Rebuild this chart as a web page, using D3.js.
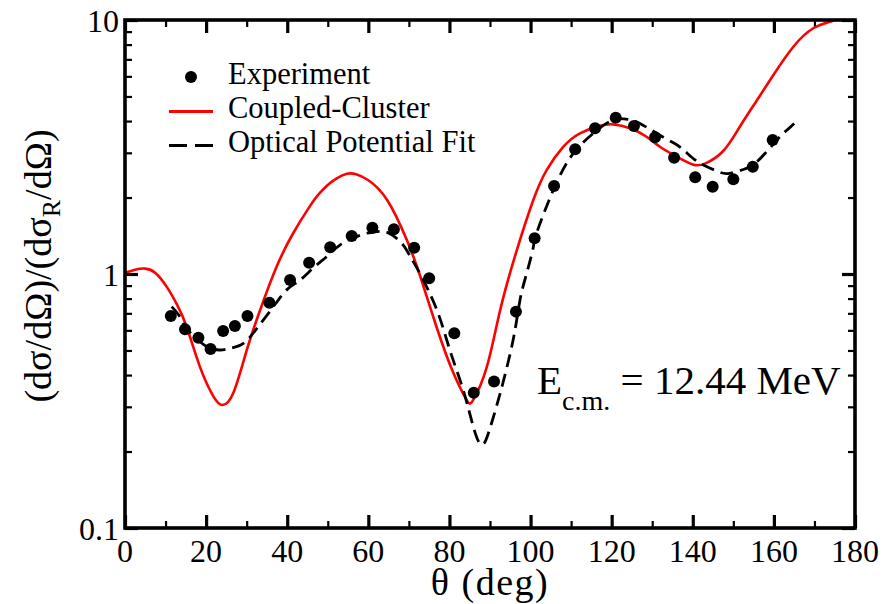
<!DOCTYPE html>
<html>
<head>
<meta charset="utf-8">
<script src="https://cdn.jsdelivr.net/npm/d3@7"></script>
<style>
  html, body { margin: 0; padding: 0; background: #fff; }
  svg { display: block; }
</style>
</head>
<body>
<svg id="chart" width="893" height="604" font-family="'Liberation Serif', 'Times New Roman', Times, 'DejaVu Serif', serif"></svg>
<script>
// Measured angular distribution (ratio to Rutherford)
const expAngle = [11.3, 14.8, 18.1, 21.1, 24.2, 27.1, 30.2, 35.6, 40.7, 45.4, 50.6, 55.9, 61.0, 66.3,
  71.3, 75.0, 81.2, 86.0, 91.0, 96.4, 101.0, 105.8, 111.0, 115.9, 121.0, 125.5, 130.7, 135.4,
  140.6, 144.9, 150.0, 154.8, 159.7];
const expValue = [0.683, 0.606, 0.561, 0.507, 0.597, 0.624, 0.683, 0.771, 0.947, 1.108, 1.274, 1.411, 1.521, 1.50,
  1.269, 0.962, 0.584, 0.341, 0.377, 0.711, 1.382, 2.221, 3.097, 3.746, 4.124, 3.825, 3.453, 2.871,
  2.403, 2.207, 2.36, 2.645, 3.37];

// Coupled-cluster calculation
const ccAngle = [0, 2.5, 5, 7.5, 10.3, 12.8, 15.2, 18.5, 21.8, 24.0, 26.7, 30.0, 33.3, 37.4, 41.5, 45.6,
  48, 50, 52, 54.7, 57, 60, 64.6, 69.5, 72.8, 76.8, 80.9, 84.2, 85.9, 89.2, 92.5, 96.6, 100.7, 104.0, 108.1,
  112.2, 117.1, 120.4, 124.5, 128.6, 131.9, 136, 140, 143, 147.5, 151.6, 155.7, 159.8, 164.8,
  169.7, 173.8, 176, 180];
const ccValue = [1.01, 1.04, 1.05, 1.01, 0.89, 0.76, 0.62, 0.43, 0.33, 0.305, 0.34, 0.50, 0.72, 1.07, 1.45, 1.85,
  2.08, 2.24, 2.37, 2.48, 2.47, 2.34, 1.96, 1.36, 0.98, 0.62, 0.41, 0.32, 0.32, 0.43, 0.72, 1.24, 1.96, 2.57, 3.17,
  3.58, 3.83, 3.88, 3.75, 3.47, 3.17, 2.90, 2.70, 2.72, 3.05, 3.80, 4.80, 6.05, 7.85,
  9.28, 9.85, 10.05, 10.2];

// Optical-potential fit
const opAngle = [11.5, 13.5, 15.2, 18, 20.5, 23.4, 26, 29.2, 32.5, 36.6, 40, 43.2, 46.5, 49.7, 53, 57.9,
  61, 63.7, 66, 68.6, 70.5, 72.7, 76.9, 80.1, 83.4, 85.9, 87.5, 88.5, 89.6, 92.5, 95.7, 97.4, 99,
  100.7, 101.5, 105.6, 110.5, 115.5, 118.5, 121.5, 124, 126.5, 131.9, 135, 137.3, 140.1, 143,
  146.5, 149, 152.5, 155, 157.8, 161.5, 163.5, 165.6];
const opValue = [0.744, 0.68, 0.611, 0.55, 0.515, 0.502, 0.51, 0.533, 0.61, 0.744, 0.87, 0.947, 1.06, 1.17, 1.30, 1.42,
  1.46, 1.47, 1.42, 1.30, 1.16, 1.006, 0.722, 0.502, 0.349, 0.25, 0.215, 0.215, 0.236, 0.339, 0.55, 0.79, 1.0,
  1.28, 1.45, 2.14, 2.98, 3.58, 3.90, 4.08, 4.06, 3.95, 3.52, 3.30, 3.12, 2.85, 2.67,
  2.52, 2.49, 2.58, 2.70, 2.98, 3.47, 3.72, 4.0];

const xMajor = [0, 20, 40, 60, 80, 100, 120, 140, 160, 180];
const xMinor = [10, 30, 50, 70, 90, 110, 130, 150, 170];
const yMajor = [0.1, 1, 10];
const yMinor = [0.2, 0.3, 0.4, 0.5, 0.6, 0.7, 0.8, 0.9, 2, 3, 4, 5, 6, 7, 8, 9];

const legendLabels = ["Experiment", "Coupled-Cluster", "Optical Potential Fit"];

const svg = d3.select("#chart");
const L = 125, R = 855, T = 20, B = 528;

const x = d3.scaleLinear().domain([0, 180]).range([L, R]);
const y = d3.scaleLog().domain([0.1, 10]).range([B, T]);

svg.append("defs").append("clipPath").attr("id", "plotClip")
  .append("rect").attr("x", L).attr("y", T).attr("width", R - L).attr("height", B - T);

// ticks (inward on all four sides)
function tickAxis(axisGen, transform, values, size, width) {
  const g = svg.append("g").attr("transform", transform)
    .call(axisGen.tickValues(values).tickSize(-size).tickFormat(""));
  g.select(".domain").remove();
  g.selectAll(".tick line").attr("stroke", "#000").attr("stroke-width", width);
  return g;
}
tickAxis(d3.axisBottom(x), `translate(0,${B})`, xMajor, 13, 3.2);
tickAxis(d3.axisBottom(x), `translate(0,${B})`, xMinor, 7, 2.2);
tickAxis(d3.axisTop(x), `translate(0,${T})`, xMajor, 13, 3.2);
tickAxis(d3.axisTop(x), `translate(0,${T})`, xMinor, 7, 2.2);
tickAxis(d3.axisLeft(y), `translate(${L},0)`, yMajor, 13, 3.2);
tickAxis(d3.axisLeft(y), `translate(${L},0)`, yMinor, 7, 2.2);
tickAxis(d3.axisRight(y), `translate(${R},0)`, yMajor, 13, 3.2);
tickAxis(d3.axisRight(y), `translate(${R},0)`, yMinor, 7, 2.2);

// tick labels
svg.append("g").selectAll("text").data(xMajor).join("text")
  .attr("x", d => x(d)).attr("y", 562)
  .attr("text-anchor", "middle").attr("font-size", 32)
  .text(d => d);
const yFmt = d => d >= 1 ? String(d) : "0.1";
svg.append("g").selectAll("text").data(yMajor).join("text")
  .attr("x", 119).attr("y", d => y(d) + 12)
  .attr("text-anchor", "end").attr("font-size", 32)
  .text(yFmt);

// curves
const line = (ax, vy) => d3.line()
  .x((d, i) => x(ax[i])).y((d, i) => y(vy[i]))
  .curve(d3.curveNatural)(ax);

const plot = svg.append("g").attr("clip-path", "url(#plotClip)");
plot.append("path").attr("d", line(ccAngle, ccValue))
  .attr("fill", "none").attr("stroke", "#ff0000").attr("stroke-width", 2.6);
plot.append("path").attr("d", line(opAngle, opValue))
  .attr("fill", "none").attr("stroke", "#000").attr("stroke-width", 2.8)
  .attr("stroke-dasharray", "13,7");
plot.append("g").selectAll("circle").data(expAngle).join("circle")
  .attr("cx", (d) => x(d)).attr("cy", (d, i) => y(expValue[i])).attr("r", 6)
  .attr("fill", "#000");

// frame
svg.append("rect").attr("x", L).attr("y", T).attr("width", R - L).attr("height", B - T)
  .attr("fill", "none").attr("stroke", "#000").attr("stroke-width", 3.6);

// legend
const lg = svg.append("g");
lg.append("circle").attr("cx", 191).attr("cy", 77).attr("r", 6).attr("fill", "#000");
lg.append("line").attr("x1", 169).attr("x2", 213).attr("y1", 111.5).attr("y2", 111.5)
  .attr("stroke", "#ff0000").attr("stroke-width", 3);
lg.append("line").attr("x1", 169).attr("x2", 213).attr("y1", 145.5).attr("y2", 145.5)
  .attr("stroke", "#000").attr("stroke-width", 3).attr("stroke-dasharray", "18,8");
lg.selectAll("text").data(legendLabels).join("text")
  .attr("x", 228).attr("y", (d, i) => 84 + i * 34)
  .attr("font-size", 30.5).text(d => d);

// energy annotation
const ann = svg.append("text").attr("x", 537).attr("y", 394).attr("font-size", 41);
ann.append("tspan").text("E");
ann.append("tspan").attr("font-size", 28).attr("dy", 16).text("c.m.");
ann.append("tspan").attr("dy", -16).text(" = 12.44 MeV");

// axis titles
svg.append("text").attr("x", 490).attr("y", 595).attr("text-anchor", "middle")
  .attr("font-size", 38).attr("letter-spacing", 1.5).text("θ (deg)");
const yt = svg.append("text").attr("transform", "translate(51,266) rotate(-90)")
  .attr("text-anchor", "middle").attr("font-size", 38);
yt.append("tspan").text("(dσ/dΩ)/(dσ");
yt.append("tspan").attr("font-size", 26).attr("dy", 9).text("R");
yt.append("tspan").attr("dy", -9).text("/dΩ)");
</script>
</body>
</html>
